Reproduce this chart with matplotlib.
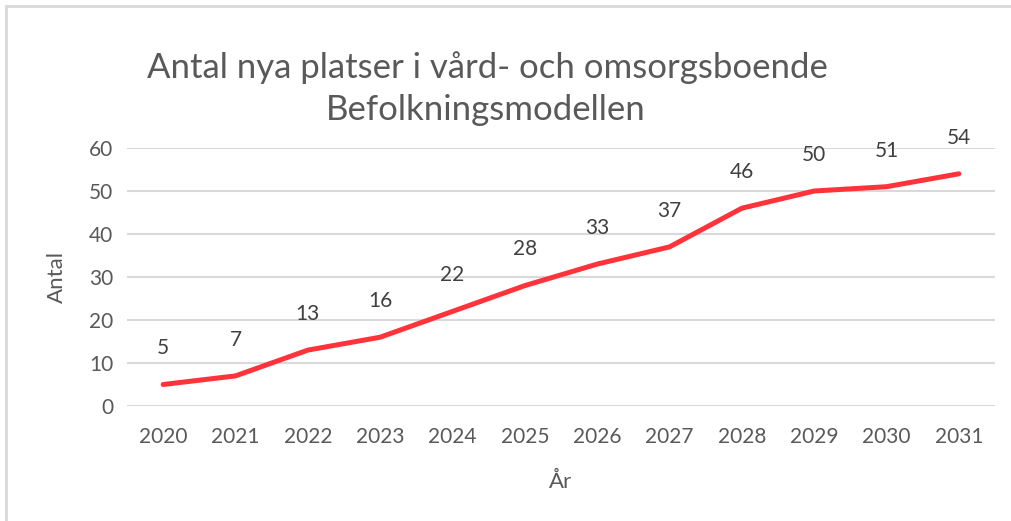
import matplotlib.pyplot as plt
from matplotlib.patches import Rectangle

years = ["2020", "2021", "2022", "2023", "2024", "2025", "2026", "2027", "2028", "2029", "2030", "2031"]
antal = [5, 7, 13, 16, 22, 28, 33, 37, 46, 50, 51, 54]
y_ticks = [0, 10, 20, 30, 40, 50, 60]

plt.rcParams['font.family'] = ['Lato', 'DejaVu Sans']
txt = "#595959"

fig = plt.figure(figsize=(10.12, 5.21), dpi=100)
# chart border (only top/left visible in crop)
fig.patches.append(Rectangle((6/1012, -0.1), 1.2, (521-6)/521 + 0.1, transform=fig.transFigure,
                             fill=False, edgecolor="#d9d9d9", linewidth=2))

ax = fig.add_axes([127/1012, 1 - 406/521, (995-127)/1012, (406-148)/521])
x = list(range(len(years)))
ax.plot(x, antal, color="#ff3339", linewidth=3.6, solid_capstyle="round", solid_joinstyle="round")
for xi, v in zip(x, antal):
    ax.annotate(str(v), (xi, v), xytext=(0, 26), textcoords="offset points",
                ha="center", va="center", fontsize=15, color="#404040")

ax.set_xlim(-0.5, len(years) - 0.5)
ax.set_ylim(0, 60)
ax.set_yticks(y_ticks)
ax.set_xticks(x)
ax.set_xticklabels(years)
ax.grid(axis="y", color="#d9d9d9", linewidth=1.5)
ax.set_axisbelow(True)
for s in ax.spines.values():
    s.set_visible(False)
ax.tick_params(length=0, labelsize=15, labelcolor=txt)
ax.tick_params(axis="y", pad=10)
ax.tick_params(axis="x", pad=15)
ax.set_xlabel("År", fontsize=16, color=txt, labelpad=18)
ax.set_ylabel("Antal", fontsize=16, color=txt, labelpad=16)

fig.text(487/1012, 1 - 68/521, "Antal nya platser i vård- och omsorgsboende", ha="center", va="center",
         fontsize=25, color=txt)
fig.text(486/1012, 1 - 110/521, "Befolkningsmodellen", ha="center", va="center",
         fontsize=25, color=txt)

fig.savefig("out.png", dpi=100)
